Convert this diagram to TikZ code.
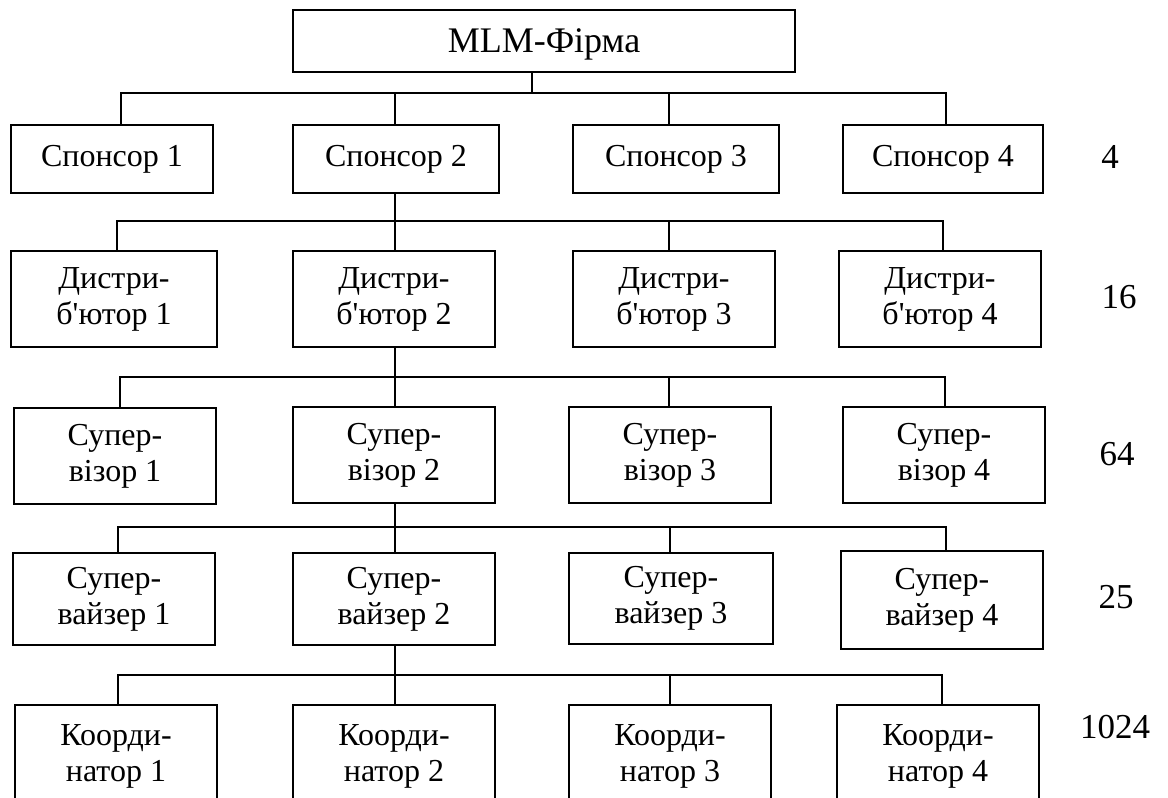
\documentclass[tikz,border=0pt]{standalone}
\usepackage{fontspec}
\setmainfont{Liberation Serif}
\newcommand{\myapos}{\textquotesingle}
\begin{document}
\begin{tikzpicture}[x=1pt,y=-1pt,
  box/.style={draw, line width=1.3pt, rectangle, inner sep=0pt, outer sep=0pt,
    align=center, font=\fontsize{32}{36}\selectfont},
  openbox/.style={rectangle, inner sep=0pt, outer sep=0pt,
    align=center, font=\fontsize{32}{36}\selectfont},
  topbox/.style={box, font=\fontsize{36}{40}\selectfont, text depth=0pt},
  conn/.style={line width=2pt, line join=miter},
  side/.style={line width=1.3pt, line join=miter},
  num/.style={anchor=base, inner sep=0pt, font=\fontsize{35}{40}\selectfont}]
\useasboundingbox (0,0) rectangle (1168,798);
% boxes
\node[topbox, minimum width=502pt, minimum height=62pt] (top) at (544,41) {MLM-Фірма};

\node[box, minimum width=202pt, minimum height=68pt] (s1) at (112,159) {Спонсор 1};
\node[box, minimum width=206pt, minimum height=68pt] (s2) at (396,159) {Спонсор 2};
\node[box, minimum width=206pt, minimum height=68pt] (s3) at (676,159) {Спонсор 3};
\node[box, minimum width=200pt, minimum height=68pt] (s4) at (943,159) {Спонсор 4};

\node[box, minimum width=206pt, minimum height=96pt] (d1) at (114,299) {Дистри-\\б\myapos ютор 1};
\node[box, minimum width=202pt, minimum height=96pt] (d2) at (394,299) {Дистри-\\б\myapos ютор 2};
\node[box, minimum width=202pt, minimum height=96pt] (d3) at (674,299) {Дистри-\\б\myapos ютор 3};
\node[box, minimum width=202pt, minimum height=96pt] (d4) at (940,299) {Дистри-\\б\myapos ютор 4};

\node[box, minimum width=202pt, minimum height=96pt] (v1) at (115,456) {Супер-\\візор 1};
\node[box, minimum width=202pt, minimum height=96pt] (v2) at (394,455) {Супер-\\візор 2};
\node[box, minimum width=202pt, minimum height=96pt] (v3) at (670,455) {Супер-\\візор 3};
\node[box, minimum width=202pt, minimum height=96pt] (v4) at (944,455) {Супер-\\візор 4};

\node[box, minimum width=202pt, minimum height=92pt] (w1) at (114,599) {Супер-\\вайзер 1};
\node[box, minimum width=202pt, minimum height=92pt] (w2) at (394,599) {Супер-\\вайзер 2};
\node[box, minimum width=204pt, minimum height=91pt] (w3) at (671,598.5) {Супер-\\вайзер 3};
\node[box, minimum width=202pt, minimum height=98pt] (w4) at (942,600) {Супер-\\вайзер 4};

% bottom row: boxes run off the lower edge of the picture
\node[openbox, minimum width=202pt, minimum height=102pt] (k1) at (116,756) {Коорди-\\натор 1};
\node[openbox, minimum width=202pt, minimum height=102pt] (k2) at (394,756) {Коорди-\\натор 2};
\node[openbox, minimum width=202pt, minimum height=102pt] (k3) at (670,756) {Коорди-\\натор 3};
\node[openbox, minimum width=202pt, minimum height=102pt] (k4) at (938,756) {Коорди-\\натор 4};
\coordinate (bottom) at (0,797.5);
\foreach \k in {k1,k2,k3,k4}{
  \draw[side] (\k.west |- bottom) -- (\k.north west) -- (\k.north east) -- (\k.east |- bottom);
}

% level counts
\node[num] (n1) at (1110,168) {4};
\node[num] (n2) at (1119,308) {16};
\node[num] (n3) at (1117,465) {64};
\node[num] (n4) at (1116,608) {25};
\node[num] (n5) at (1115,738) {1024};

% bus coordinates
\coordinate (p0) at (532,92.7);
\coordinate (a1) at (120.7,92.7); \coordinate (a2) at (395,92.7);
\coordinate (a3) at (669,92.7);   \coordinate (a4) at (945.7,92.7);

\coordinate (b1) at (117,220.7);  \coordinate (b2) at (395.4,220.7);
\coordinate (b3) at (669,220.7);  \coordinate (b4) at (942.6,220.7);

\coordinate (c1) at (120,376.7);  \coordinate (c2) at (394.6,376.7);
\coordinate (c3) at (668.5,376.7);\coordinate (c4) at (945,376.7);

\coordinate (e1) at (118,526.7);  \coordinate (e2) at (394.6,526.7);
\coordinate (e3) at (669.7,526.7);\coordinate (e4) at (945.7,526.7);

\coordinate (f1) at (118,674.5);  \coordinate (f2) at (394.6,674.5);
\coordinate (f3) at (669.7,674.5);\coordinate (f4) at (941.8,674.5);

% connectors: level 0 -> 1
\draw[conn] (top.south -| p0) -- (p0);
\draw[conn] (a1 |- s1.north) -- (a1) -- (a4) -- (a4 |- s4.north);
\draw[conn] (a2) -- (a2 |- s2.north);
\draw[conn] (a3) -- (a3 |- s3.north);
% level 1 -> 2
\draw[conn] (b2 |- s2.south) -- (b2 |- d2.north);
\draw[conn] (b1 |- d1.north) -- (b1) -- (b4) -- (b4 |- d4.north);
\draw[conn] (b3) -- (b3 |- d3.north);
% level 2 -> 3
\draw[conn] (c2 |- d2.south) -- (c2 |- v2.north);
\draw[conn] (c1 |- v1.north) -- (c1) -- (c4) -- (c4 |- v4.north);
\draw[conn] (c3) -- (c3 |- v3.north);
% level 3 -> 4
\draw[conn] (e2 |- v2.south) -- (e2 |- w2.north);
\draw[conn] (e1 |- w1.north) -- (e1) -- (e4) -- (e4 |- w4.north);
\draw[conn] (e3) -- (e3 |- w3.north);
% level 4 -> 5
\draw[conn] (f2 |- w2.south) -- (f2 |- k2.north);
\draw[conn] (f1 |- k1.north) -- (f1) -- (f4) -- (f4 |- k4.north);
\draw[conn] (f3) -- (f3 |- k3.north);
\end{tikzpicture}
\end{document}
